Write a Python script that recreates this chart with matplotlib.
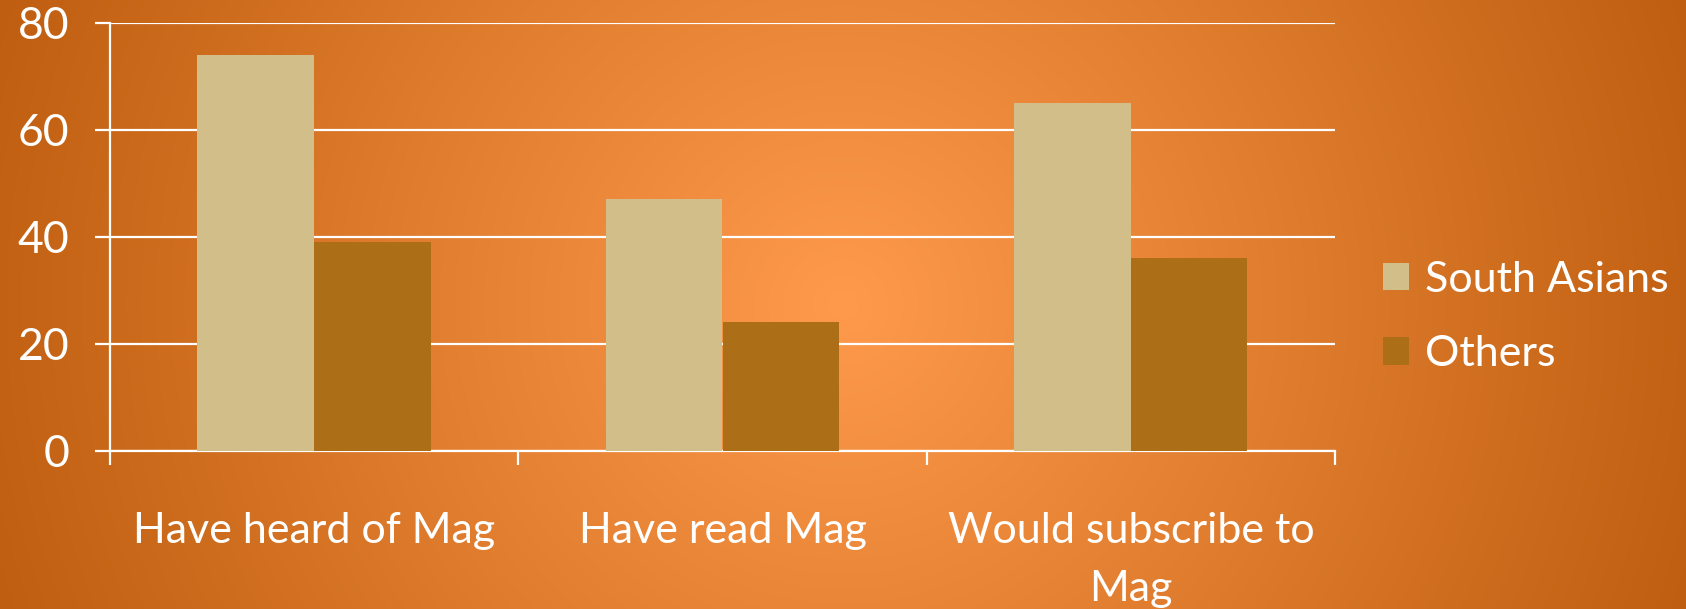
import numpy as np
import matplotlib.pyplot as plt
from matplotlib.colors import to_rgb

plt.rcParams['font.family'] = ['Lato', 'DejaVu Sans']

categories = ['Have heard of Mag', 'Have read Mag', 'Would subscribe to\nMag']
south_asians = [74, 47, 65]
others = [39, 24, 36]
yticks = [0, 20, 40, 60, 80]

W, H = 1686, 609
fig = plt.figure(figsize=(W / 100, H / 100), dpi=100)

# radial orange background, bright in the middle, darker toward the corners
bg = fig.add_axes([0, 0, 1, 1], zorder=-10)
yy, xx = np.mgrid[0:H, 0:W]
d = np.hypot(xx - W / 2, yy - H / 2) / np.hypot(W / 2, H / 2)
c0 = np.array(to_rgb('#ff9a4c'))
c1 = np.array(to_rgb('#bf5e10'))
img = c0[None, None, :] + (c1 - c0)[None, None, :] * d[:, :, None]
bg.imshow(img, aspect='auto', extent=[0, 1, 0, 1])
bg.axis('off')

ax = fig.add_axes([110 / W, 1 - 450.5 / H, 1225 / W, 427.9 / H])
ax.patch.set_alpha(0)

x = np.arange(len(categories))
w = 1 / 3.5
b1 = ax.bar(x - w / 2, south_asians, w, color='#d2be88', label='South Asians', zorder=3)
b2 = ax.bar(x + w / 2, others, w, color='#ac6e17', label='Others', zorder=3)

ax.set_xlim(-0.5, len(categories) - 0.5)
ax.set_ylim(0, 80)
ax.set_yticks(yticks)
ax.grid(axis='y', color='white', linewidth=1.6, zorder=1)

for s in ['top', 'right']:
    ax.spines[s].set_visible(False)
for s in ['left', 'bottom']:
    ax.spines[s].set_color('white')
    ax.spines[s].set_linewidth(1.6)

fs = 31

# category boundaries carry the x ticks, labels sit at the centres
ax.set_xticks(np.arange(len(categories) + 1) - 0.5)
ax.set_xticklabels([])
ax.set_xticks(x, minor=True)
ax.set_xticklabels(categories, minor=True, fontsize=fs, color='white', linespacing=1.65)
ax.tick_params(axis='x', which='major', direction='out', length=10, width=1.6, color='white')
ax.tick_params(axis='x', which='minor', length=0, pad=44)
ax.tick_params(axis='y', direction='out', length=11, width=1.6, color='white',
               labelsize=fs + 1, labelcolor='white', pad=18)

leg = fig.legend(handles=[b1, b2], loc='center left', bbox_to_anchor=(1344 / W, 1 - 317 / H),
                 frameon=False, fontsize=fs, labelcolor='white', handlelength=0.62,
                 handleheight=0.62, handletextpad=0.35, labelspacing=0.85)

fig.savefig('out.png', dpi=100)
